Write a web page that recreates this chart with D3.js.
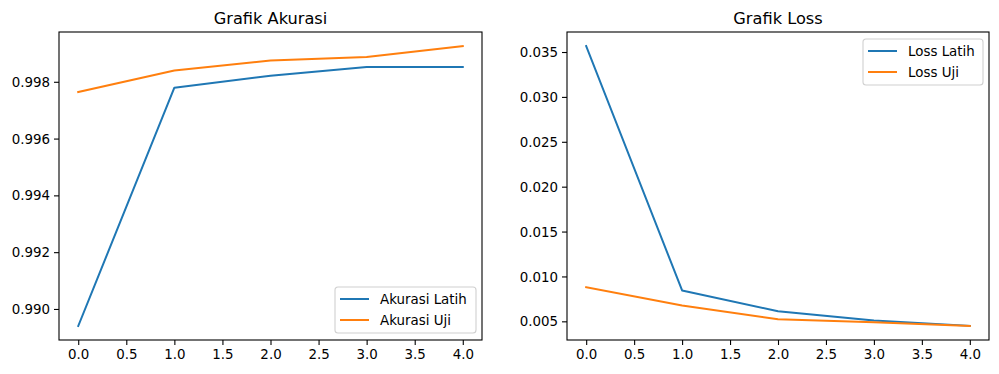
<!DOCTYPE html>
<html>
<head>
<meta charset="utf-8">
<script src="https://cdn.jsdelivr.net/npm/d3@7"></script>
<style>
  html, body { margin: 0; padding: 0; background: #fff; }
  svg { display: block; font-family: "DejaVu Sans", sans-serif; }
</style>
</head>
<body>
<svg id="chart" width="999" height="374"></svg>
<script>
const epochs = [0, 1, 2, 3, 4];
const akurasiLatih = [0.98940, 0.99779, 0.99821, 0.99852, 0.99852];
const akurasiUji   = [0.99764, 0.99840, 0.99875, 0.99887, 0.99926];
const lossLatih = [0.03567, 0.00844, 0.00612, 0.00508, 0.00450];
const lossUji   = [0.00880, 0.00676, 0.00522, 0.00490, 0.00448];
const xTicks = [0, 0.5, 1, 1.5, 2, 2.5, 3, 3.5, 4];
const accTicks = [0.990, 0.992, 0.994, 0.996, 0.998];
const lossTicks = [0.005, 0.010, 0.015, 0.020, 0.025, 0.030, 0.035];

const colors = ["#1f77b4", "#ff7f0e"];
const svg = d3.select("#chart");

function panel(opts) {
  const { left, right, top, bottom, title, series, names, yTicks, yFmt, legendPos } = opts;
  const g = svg.append("g");
  const allVals = series.flat();
  const ymin = d3.min(allVals), ymax = d3.max(allVals);
  const pad = (ymax - ymin) * 0.05;
  const x = d3.scaleLinear().domain([-0.2, 4.2]).range([left, right]);
  const y = d3.scaleLinear().domain([ymin - pad, ymax + pad]).range([bottom, top]);

  // lines
  const line = d3.line().x((d, i) => x(epochs[i])).y(d => y(d));
  series.forEach((s, i) => {
    g.append("path").datum(s)
      .attr("d", line)
      .attr("fill", "none")
      .attr("stroke", colors[i])
      .attr("stroke-width", 2)
      .attr("stroke-linejoin", "round")
      .attr("stroke-linecap", "square");
  });

  // axes
  const xa = g.append("g").attr("transform", `translate(0,${bottom})`)
    .call(d3.axisBottom(x).tickValues(xTicks).tickFormat(d3.format(".1f")).tickSize(5).tickPadding(4));
  const ya = g.append("g").attr("transform", `translate(${left},0)`)
    .call(d3.axisLeft(y).tickValues(yTicks).tickFormat(d3.format(yFmt)).tickSize(5).tickPadding(4));
  [xa, ya].forEach(a => {
    a.select(".domain").remove();
    a.selectAll("text").attr("font-size", 13.4).attr("fill", "#000").attr("font-family", "DejaVu Sans");
    a.selectAll("line").attr("stroke", "#000").attr("stroke-width", 1.1);
  });
  xa.selectAll("text").attr("dy", "0.71em").attr("y", 9);
  ya.selectAll("text").attr("dy", "0.34em");

  // frame
  g.append("rect").attr("x", left).attr("y", top)
    .attr("width", right - left).attr("height", bottom - top)
    .attr("fill", "none").attr("stroke", "#000").attr("stroke-width", 1.1);

  // title
  g.append("text").attr("x", (left + right) / 2).attr("y", 24)
    .attr("text-anchor", "middle").attr("font-size", 16.2).attr("fill", "#000")
    .text(title);

  // legend
  const lg = g.append("g").attr("transform", `translate(${legendPos[0]},${legendPos[1]})`);
  const lw = legendPos[2], lh = 46;
  lg.append("rect").attr("x", 0).attr("y", 0).attr("width", lw).attr("height", lh)
    .attr("rx", 3).attr("ry", 3)
    .attr("fill", "rgba(255,255,255,0.8)").attr("stroke", "#d0d0d0").attr("stroke-width", 1.1);
  names.forEach((n, i) => {
    const yy = 12 + i * 21;
    lg.append("line").attr("x1", 5).attr("x2", 34).attr("y1", yy).attr("y2", yy)
      .attr("stroke", colors[i]).attr("stroke-width", 2);
    lg.append("text").attr("x", 45).attr("y", yy).attr("dy", "0.36em")
      .attr("font-size", 13.4).attr("fill", "#000").text(n);
  });
}

panel({
  left: 59, right: 482, top: 32, bottom: 340,
  title: "Grafik Akurasi",
  series: [akurasiLatih, akurasiUji],
  names: ["Akurasi Latih", "Akurasi Uji"],
  yTicks: accTicks, yFmt: ".3f",
  legendPos: [335, 287, 141]
});
panel({
  left: 567, right: 989, top: 32, bottom: 340,
  title: "Grafik Loss",
  series: [lossLatih, lossUji],
  names: ["Loss Latih", "Loss Uji"],
  yTicks: lossTicks, yFmt: ".3f",
  legendPos: [863, 39, 120]
});
</script>
</body>
</html>
